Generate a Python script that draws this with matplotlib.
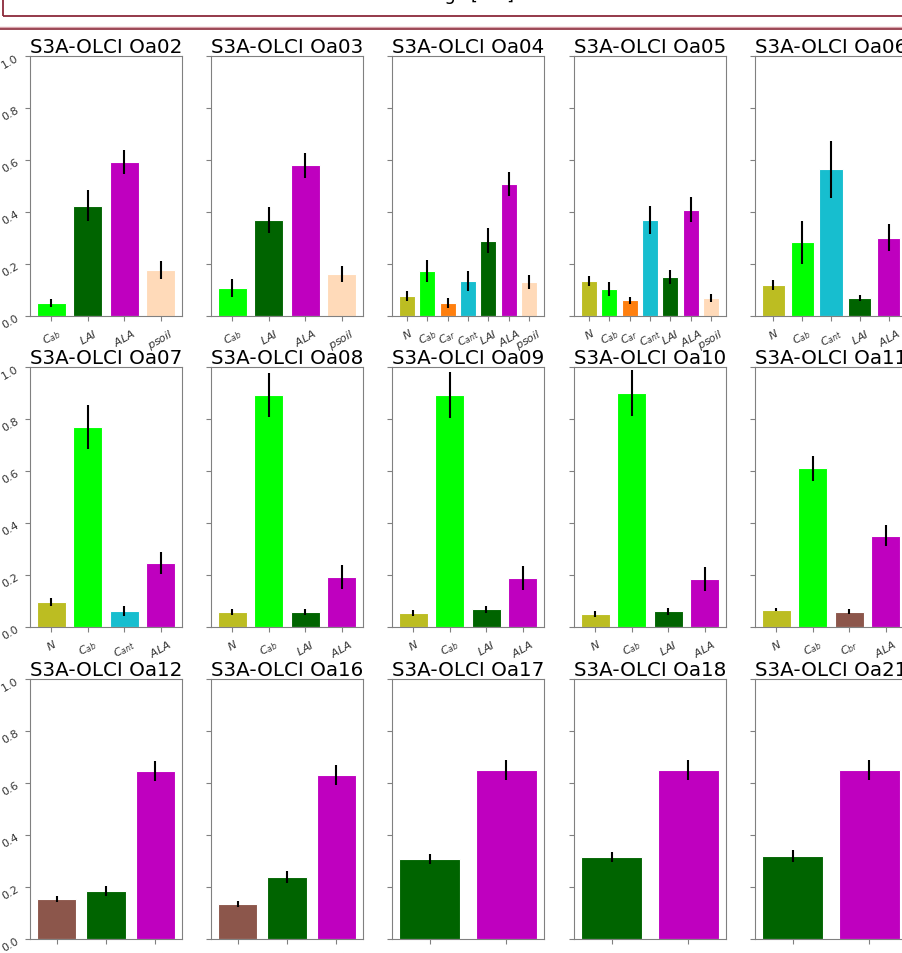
import numpy as np
import matplotlib
matplotlib.use('Agg')
import matplotlib.pyplot as plt
from matplotlib.patches import Rectangle
from matplotlib.lines import Line2D

# colours per parameter
colors = {'N': '#bcbd22', 'Cab': '#00ff00', 'Car': '#ff7f0e', 'Cant': '#17becf',
          'LAI': '#006400', 'ALA': '#bf00bf', 'psoil': '#ffdab9', 'Cbr': '#8c564b'}
labels = {'N': '$N$', 'Cab': '$C_{ab}$', 'Car': '$C_{ar}$', 'Cant': '$C_{ant}$',
          'LAI': '$LAI$', 'ALA': '$ALA$', 'psoil': '$psoil$', 'Cbr': '$C_{br}$'}

bands = ['Oa02', 'Oa03', 'Oa04', 'Oa05', 'Oa06',
         'Oa07', 'Oa08', 'Oa09', 'Oa10', 'Oa11',
         'Oa12', 'Oa16', 'Oa17', 'Oa18', 'Oa21']

params = [
    ['Cab', 'LAI', 'ALA', 'psoil'],
    ['Cab', 'LAI', 'ALA', 'psoil'],
    ['N', 'Cab', 'Car', 'Cant', 'LAI', 'ALA', 'psoil'],
    ['N', 'Cab', 'Car', 'Cant', 'LAI', 'ALA', 'psoil'],
    ['N', 'Cab', 'Cant', 'LAI', 'ALA'],
    ['N', 'Cab', 'Cant', 'ALA'],
    ['N', 'Cab', 'LAI', 'ALA'],
    ['N', 'Cab', 'LAI', 'ALA'],
    ['N', 'Cab', 'LAI', 'ALA'],
    ['N', 'Cab', 'Cbr', 'ALA'],
    ['Cbr', 'LAI', 'ALA'],
    ['Cbr', 'LAI', 'ALA'],
    ['LAI', 'ALA'],
    ['LAI', 'ALA'],
    ['LAI', 'ALA'],
]

values = [
    [0.05, 0.425, 0.592, 0.177],
    [0.108, 0.37, 0.58, 0.162],
    [0.077, 0.173, 0.05, 0.135, 0.29, 0.508, 0.13],
    [0.135, 0.104, 0.06, 0.37, 0.15, 0.408, 0.07],
    [0.119, 0.283, 0.565, 0.07, 0.301],
    [0.096, 0.77, 0.062, 0.246],
    [0.058, 0.892, 0.058, 0.192],
    [0.054, 0.892, 0.068, 0.188],
    [0.05, 0.90, 0.06, 0.185],
    [0.067, 0.61, 0.059, 0.351],
    [0.154, 0.185, 0.646],
    [0.135, 0.238, 0.631],
    [0.308, 0.65],
    [0.315, 0.65],
    [0.319, 0.65],
]

errors = [
    [0.015, 0.06, 0.045, 0.033],
    [0.035, 0.05, 0.048, 0.03],
    [0.02, 0.043, 0.018, 0.038, 0.047, 0.047, 0.028],
    [0.02, 0.027, 0.015, 0.055, 0.028, 0.048, 0.015],
    [0.02, 0.082, 0.11, 0.012, 0.052],
    [0.015, 0.085, 0.018, 0.042],
    [0.013, 0.085, 0.012, 0.045],
    [0.012, 0.09, 0.014, 0.045],
    [0.012, 0.09, 0.013, 0.045],
    [0.006, 0.048, 0.01, 0.04],
    [0.012, 0.02, 0.04],
    [0.012, 0.022, 0.04],
    [0.02, 0.04],
    [0.02, 0.04],
    [0.022, 0.04],
]

W, H = 903, 954
fig = plt.figure(figsize=(W / 100, H / 100), dpi=100)

# header box and separator (mostly outside the crop)
fig.add_artist(Rectangle((3 / W, 1 - 17 / H), 1.2, 0.2, transform=fig.transFigure,
                         fill=False, edgecolor='#8b2a3a', lw=1.3))
fig.text(514 / W, 1 + 0.5 / H, 'Total Sobol indices of all the settings [0-1]',
         ha='right', va='baseline', fontsize=13)
fig.add_artist(Line2D([0, 1], [1 - 28 / H] * 2, transform=fig.transFigure,
                      color='#d9a5ad', lw=1))
fig.add_artist(Line2D([0, 1], [1 - 29.8 / H] * 2, transform=fig.transFigure,
                      color='#8b2a3a', lw=1.2))

col_left = [30, 211, 392, 574, 755]
row_top = [57, 368, 680]
aw, ah = 152, 260

for i, band in enumerate(bands):
    r, c = divmod(i, 5)
    ax = fig.add_axes([col_left[c] / W, 1 - (row_top[r] + ah) / H, aw / W, ah / H])
    p = params[i]
    x = np.arange(len(p))
    ax.bar(x, values[i], width=0.8, color=[colors[k] for k in p],
           edgecolor='white', linewidth=0.8)
    ax.errorbar(x, values[i], yerr=errors[i], fmt='none', ecolor='black',
                elinewidth=1.5, capsize=0)
    ax.set_ylim(0, 1.0)
    ax.set_title('S3A-OLCI ' + band, fontsize=14.3, pad=3)
    ax.set_xticks(x)
    ax.set_xticklabels([labels[k] for k in p], rotation=30, fontsize=8, color='#333333')
    ax.set_yticks([0, 0.2, 0.4, 0.6, 0.8, 1.0])
    if c == 0:
        ax.set_yticklabels(['0.0', '0.2', '0.4', '0.6', '0.8', '1.0'],
                           rotation=30, fontsize=8, color='#333333')
    else:
        ax.set_yticklabels([])
    for s in ax.spines.values():
        s.set_color('#808080')
    ax.tick_params(colors='#808080', labelcolor='#333333', length=3.5)

fig.savefig('out.png', dpi=100)
